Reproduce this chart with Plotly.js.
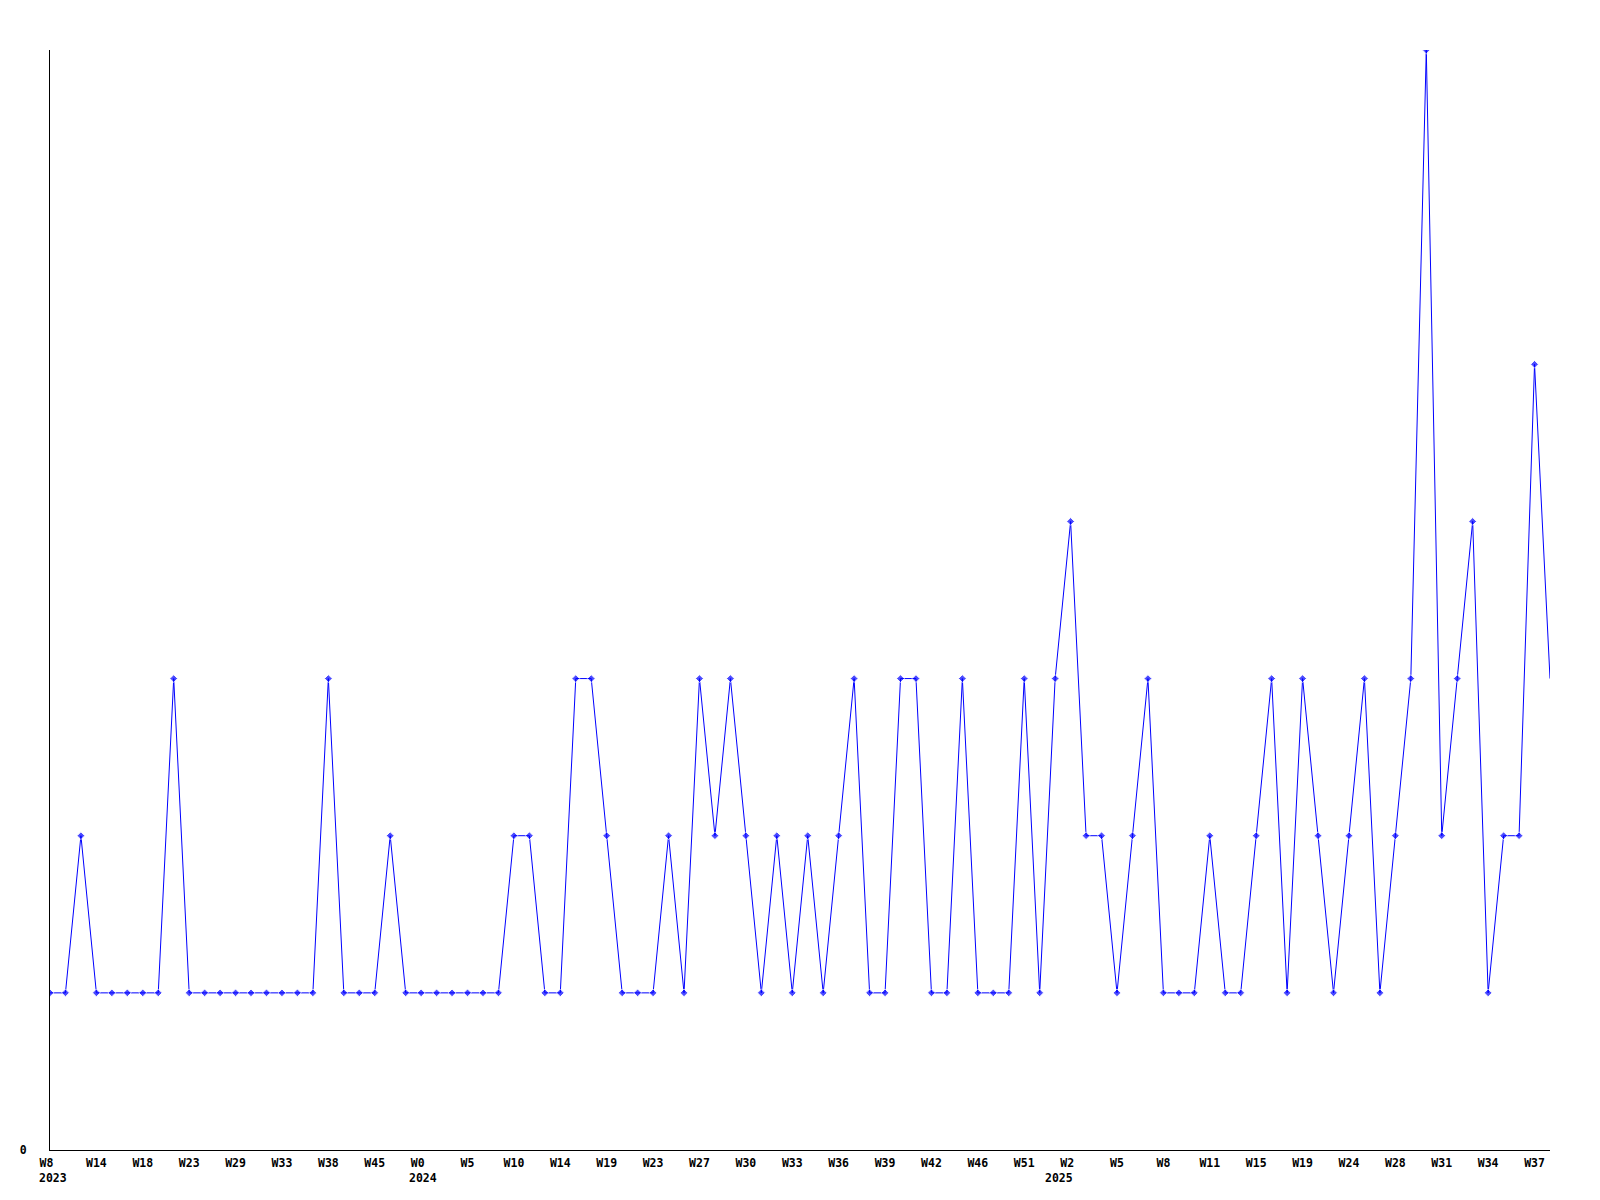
<!DOCTYPE html>
<html>
<head>
<meta charset="utf-8">
<script src="https://cdn.plot.ly/plotly-3.0.1.min.js"></script>
<style>html,body{margin:0;padding:0;background:#fff;}#chart{width:1600px;height:1200px;}</style>
</head>
<body>
<div id="chart"></div>
<script>
// Weekly counts, one value per plotted point (left to right)
const values = [
  1,1,2,1,1,1,1,1,3,1,
  1,1,1,1,1,1,1,1,3,1,
  1,1,2,1,1,1,1,1,1,1,
  2,2,1,1,3,3,2,1,1,1,
  2,1,3,2,3,2,1,2,1,2,
  1,2,3,1,1,3,3,1,1,3,
  1,1,1,3,1,3,4,2,2,1,
  2,3,1,1,1,2,1,1,2,3,
  1,3,2,1,2,3,1,2,3,7,
  2,3,4,1,2,2,5,3
];
// Tick labels, placed on every third point
const tickLabels = ["W8","W14","W18","W23","W29","W33","W38","W45","W0","W5","W10","W14","W19","W23","W27","W30","W33","W36","W39","W42","W46","W51","W2","W5","W8","W11","W15","W19","W24","W28","W31","W34","W37"];
const tickPointIndex = [0,3,6,9,12,15,18,21,24,27,30,33,36,39,42,45,48,51,54,57,60,63,66,69,72,75,78,81,84,87,90,93,96];
const yearLabels = ["2023","2024","2025"];
const yearPointIndex = [0,24,66];

const xs = values.map((v,i)=>i);
const markerSizes = values.map((v,i)=> i === values.length-1 ? 0 : 6);

const font = {family: "DejaVu Sans Mono, monospace", size: 11.5, color: "#000", weight: "bold"};

// labels that start a new year sit slightly left of their point
const shownTicks = tickLabels.map((t,k)=> yearPointIndex.includes(tickPointIndex[k]) ? t + "\u00a0" : t);

const yearShift = [-13,-14,-28];
const annotations = yearLabels.map((t,k)=>({
  text: t, x: yearPointIndex[k], xref: "x", y: 0, yref: "paper",
  xanchor: "left", yanchor: "top", yshift: -19, xshift: yearShift[k],
  showarrow: false, font: font
}));

Plotly.newPlot("chart", [{
  x: xs, y: values, type: "scatter", mode: "lines+markers",
  line: {color: "#0000ff", width: 1},
  marker: {color: "#0000ff", size: markerSizes, symbol: "diamond"},
  hoverinfo: "none"
}], {
  width: 1600, height: 1200,
  margin: {l: 50, r: 50, t: 50, b: 50},
  paper_bgcolor: "#fff", plot_bgcolor: "#fff",
  showlegend: false,
  font: font,
  xaxis: {
    range: [0, values.length-1],
    tickmode: "array", tickvals: tickPointIndex, ticktext: shownTicks,
    showgrid: false, zeroline: false, showline: true, linecolor: "#000", linewidth: 1,
    ticks: "", tickfont: font, ticklabelstandoff: 2
  },
  yaxis: {
    range: [0, 7],
    tickmode: "array", tickvals: [0], ticktext: ["0"],
    showgrid: false, zeroline: false, showline: true, linecolor: "#000", linewidth: 1,
    ticks: "", tickfont: font, ticklabelstandoff: 20
  },
  annotations: annotations
}, {staticPlot: true});
</script>
</body>
</html>
